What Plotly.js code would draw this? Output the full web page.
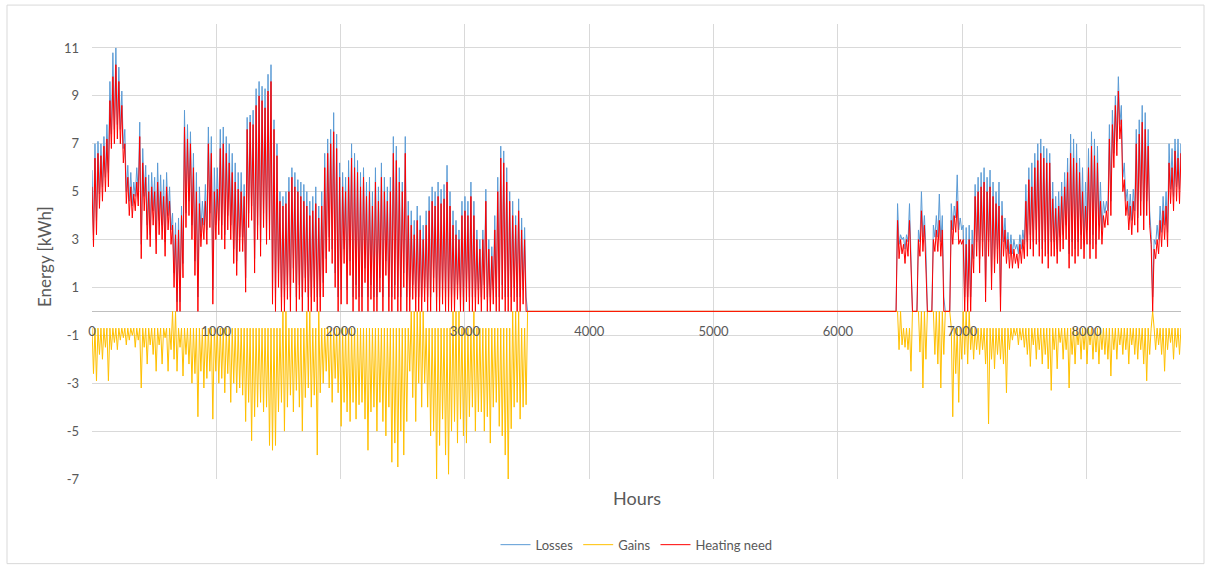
<!DOCTYPE html>
<html>
<head>
<meta charset="utf-8">
<script src="https://cdn.plot.ly/plotly-3.0.1.min.js"></script>
<style>
  html, body { margin: 0; padding: 0; background: #ffffff; }
  #chart { width: 1212px; height: 572px; }
</style>
</head>
<body>
<div id="chart"></div>
<script>
// ---- Data ----
// One night peak (Hi, at the start of each day) and one daytime trough (Lo, at mid-day)
// per day, for the two heating periods. Between them everything is 0.
const DAY_HOURS = 24;
const HALF_DAY = 12;
const START_WINTER1 = 0;
const START_WINTER2 = 6456;

const seriesNames = ["Losses", "Gains", "Heating need"];

// ----- first heating period (days from hour 0) -----
const lossHi1 = [
  5.9, 7.0, 7.1, 7.0, 7.3, 7.8, 9.6, 10.8, 11.0, 10.2,
  9.2, 7.6, 6.1, 5.8, 5.4, 6.0, 7.9, 6.8, 6.1, 5.7,
  5.8, 5.6, 6.2, 5.7, 5.5, 5.8, 5.2, 4.1, 3.7, 3.9,
  4.4, 8.4, 7.8, 7.5, 6.6, 5.8, 5.2, 4.6, 5.3, 7.7,
  7.3, 6.0, 6.0, 7.6, 7.7, 7.3, 7.0, 6.6, 6.2, 5.8,
  5.8, 5.3, 8.1, 8.2, 8.4, 9.3, 9.6, 9.4, 9.3, 9.9,
  10.3, 8.0, 7.0, 5.0, 4.8, 5.0, 5.6, 6.0, 5.8, 5.5,
  5.4, 5.3, 5.0, 4.6, 4.8, 5.2, 4.4, 5.0, 6.6, 7.2,
  7.6, 8.3, 7.4, 6.2, 5.8, 5.6, 6.3, 7.0, 6.6, 6.3,
  5.8, 6.0, 5.4, 5.6, 5.0, 6.0, 5.2, 6.2, 5.6, 5.2,
  5.6, 7.3, 6.9, 6.0, 5.4, 7.3, 4.6, 4.2, 3.8, 4.4,
  4.0, 3.6, 4.2, 4.8, 5.2, 5.0, 5.4, 5.1, 5.3, 6.1,
  5.0, 4.2, 3.8, 3.4, 4.6, 4.8, 4.6, 5.4, 4.6, 3.4,
  3.0, 3.4, 5.1, 3.0, 2.7, 4.0, 5.6, 6.9, 6.7, 6.0,
  5.0, 4.6, 4.0, 4.7, 3.9, 3.5, 0
];
const lossLo1 = [
  3.2, 3.8, 4.9, 5.2, 5.6, 5.8, 7.4, 7.6, 7.8, 7.6,
  6.8, 5.0, 4.6, 4.4, 4.8, 5.0, 2.8, 4.8, 3.6, 3.2,
  4.2, 3.0, 3.8, 3.6, 2.9, 4.0, 3.4, 1.6, 0.4, 0.4,
  2.0, 4.1, 4.6, 3.6, 2.1, 0.6, 3.3, 3.6, 3.4, 4.1,
  0.9, 3.6, 3.8, 3.6, 3.2, 4.0, 3.6, 2.6, 2.1, 3.1,
  3.1, 1.4, 4.1, 4.4, 2.2, 3.6, 2.9, 4.1, 3.4, 3.6,
  0.9, 0.6, 1.6, 0.6, 0.6, 1.1, 0.6, 1.8, 0.6, 1.1,
  0.6, 1.4, 0.6, 0.6, 1.0, 0.6, 0.6, 1.2, 2.2, 3.1,
  2.6, 1.6, 0.6, 0.9, 2.6, 0.9, 2.1, 0.6, 1.1, 0.6,
  0.6, 1.8, 0.6, 1.1, 0.6, 0.6, 1.4, 0.6, 2.1, 0.6,
  0.6, 1.1, 0.6, 0.6, 1.6, 0.6, 0.6, 1.1, 0.6, 0.6,
  0.6, 1.0, 0.6, 0.6, 1.4, 0.6, 0.6, 0.9, 0.6, 0.6,
  0.6, 0.6, 1.1, 0.6, 0.6, 1.0, 0.6, 0.6, 0.6, 0.9,
  0.6, 1.1, 0.6, 0.6, 0.9, 0.6, 0.6, 1.1, 0.6, 0.6,
  0.6, 1.0, 0.6, 0.6, 0.9, 0.6, 0
];
const gainHi1 = [
  -0.7, -0.7, -0.7, -0.7, -0.7, -0.7, -0.7, -0.7, -0.7, -0.7,
  -0.7, -0.7, -0.7, -0.7, -0.7, -0.7, -0.7, -0.7, -0.7, -0.7,
  -0.7, -0.7, -0.7, -0.7, -0.7, -0.7, -0.7, 0, 0, -0.7,
  -0.7, -0.7, -0.7, -0.7, -0.7, -0.7, -0.7, -0.7, -0.7, -0.7,
  -0.7, -0.7, -0.7, -0.7, -0.7, -0.7, -0.7, -0.7, -0.7, -0.7,
  -0.7, -0.7, -0.7, -0.7, -0.7, -0.7, -0.7, -0.7, -0.7, -0.7,
  -0.7, -0.7, -0.7, -0.7, 0, 0, -0.7, -0.7, -0.7, -0.7,
  -0.7, -0.7, 0, 0, -0.7, -0.7, 0, -0.7, -0.7, -0.7,
  -0.7, -0.7, -0.7, -0.7, -0.7, -0.7, -0.7, -0.7, -0.7, -0.7,
  -0.7, -0.7, -0.7, -0.7, -0.7, -0.7, -0.7, -0.7, -0.7, -0.7,
  -0.7, -0.7, -0.7, -0.7, -0.7, -0.7, -0.7, 0, 0, 0,
  0, 0, -0.7, -0.7, -0.7, -0.7, -0.7, -0.7, -0.7, -0.7,
  -0.7, 0, 0, 0, -0.7, -0.7, -0.7, -0.7, 0, -0.7,
  -0.7, -0.7, -0.7, -0.7, -0.7, -0.7, -0.7, -0.7, -0.7, -0.7,
  -0.7, 0, 0, 0, -0.7, -0.7, 0
];
const gainLo1 = [
  -2.6, -2.9, -1.8, -2.0, -1.5, -2.9, -1.6, -1.3, -1.6, -1.2,
  -1.1, -1.4, -1.2, -1.0, -1.5, -1.2, -3.2, -1.5, -2.2, -1.4,
  -1.8, -2.5, -1.4, -2.2, -1.1, -2.5, -1.6, -2.0, -2.5, -1.5,
  -2.7, -1.8, -2.2, -3.0, -2.6, -4.4, -2.5, -3.2, -2.8, -2.5,
  -4.5, -2.5, -3.0, -2.8, -3.4, -2.6, -3.8, -3.0, -3.4, -3.2,
  -3.5, -4.6, -3.8, -5.4, -4.4, -4.0, -3.8, -4.2, -4.0, -5.6,
  -5.8, -5.6, -4.2, -3.8, -5.0, -4.0, -3.5, -4.2, -3.3, -4.0,
  -5.0, -3.6, -3.2, -4.0, -3.5, -6.0, -3.4, -3.0, -2.5, -3.2,
  -3.8, -2.8, -3.4, -4.8, -3.8, -4.2, -4.6, -3.8, -4.5, -3.9,
  -3.8, -4.5, -5.8, -4.2, -4.0, -5.0, -3.8, -4.6, -5.2, -4.0,
  -6.3, -5.5, -6.5, -5.0, -6.0, -4.6, -2.5, -3.6, -4.6, -3.0,
  -4.0, -3.0, -4.0, -5.2, -5.0, -7.0, -5.6, -4.5, -6.0, -6.8,
  -5.0, -4.6, -5.5, -4.5, -5.2, -5.5, -4.4, -4.0, -5.0, -4.2,
  -4.2, -5.0, -4.4, -5.5, -4.0, -3.8, -4.8, -5.2, -6.0, -7.0,
  -4.9, -4.0, -3.8, -4.5, -4.0, -3.9, 0
];
const heatHi1 = [
  5.2, 6.4, 6.6, 6.5, 6.9, 7.2, 8.8, 9.8, 10.3, 9.6,
  8.6, 7.0, 5.6, 5.2, 4.9, 5.4, 7.3, 6.2, 5.6, 5.0,
  5.2, 5.0, 5.4, 5.0, 4.8, 5.2, 4.6, 3.6, 3.2, 3.4,
  4.0, 7.7, 7.2, 7.0, 6.0, 5.0, 4.5, 3.9, 4.6, 7.0,
  6.6, 5.0, 5.1, 6.8, 7.0, 6.6, 6.2, 5.8, 5.4, 5.1,
  5.0, 4.8, 7.6, 7.9, 7.8, 8.6, 9.0, 8.8, 8.5, 9.2,
  9.6, 7.6, 6.5, 4.6, 4.4, 4.5, 5.0, 5.6, 5.2, 5.0,
  4.8, 4.6, 4.4, 4.0, 4.2, 4.5, 3.9, 4.4, 6.0, 6.6,
  7.0, 7.5, 6.8, 5.6, 5.2, 5.0, 5.6, 6.4, 6.0, 5.8,
  5.2, 5.6, 4.8, 5.0, 4.4, 5.4, 4.6, 5.6, 5.0, 4.6,
  5.0, 6.6, 6.3, 5.4, 5.0, 6.6, 4.0, 3.6, 3.2, 3.8,
  3.4, 3.0, 3.6, 4.2, 4.6, 4.4, 4.8, 4.5, 4.7, 5.4,
  4.4, 3.6, 3.2, 3.0, 4.0, 4.2, 4.0, 4.8, 4.0, 3.0,
  2.6, 3.0, 4.6, 2.6, 2.3, 3.4, 5.0, 6.4, 6.2, 5.4,
  4.6, 4.0, 3.6, 4.2, 3.4, 3.0, 0
];
const heatLo1 = [
  2.7, 3.2, 4.3, 4.6, 5.0, 5.2, 6.8, 7.0, 7.2, 7.0,
  6.2, 4.5, 4.0, 3.9, 4.2, 4.4, 2.2, 4.2, 3.0, 2.7,
  3.6, 2.4, 3.2, 3.0, 2.3, 3.4, 2.8, 1.0, 0, 0,
  1.4, 3.5, 4.0, 3.0, 1.5, 0, 2.7, 3.0, 2.8, 3.5,
  0.3, 3.0, 3.2, 3.0, 2.6, 3.4, 3.0, 2.0, 1.5, 2.5,
  2.5, 0.8, 3.5, 3.8, 1.6, 3.0, 2.3, 3.5, 2.8, 3.0,
  0.3, 0, 1.0, 0, 0, 0.5, 0, 1.2, 0, 0.5,
  0, 0.8, 0, 0, 0.4, 0, 0, 0.6, 1.6, 2.5,
  2.0, 1.0, 0, 0.3, 2.0, 0.3, 1.5, 0, 0.5, 0,
  0, 1.2, 0, 0.5, 0, 0, 0.8, 0, 1.5, 0,
  0, 0.5, 0, 0, 1.0, 0, 0, 0.5, 0, 0,
  0, 0.4, 0, 0, 0.8, 0, 0, 0.3, 0, 0,
  0, 0, 0.5, 0, 0, 0.4, 0, 0, 0, 0.3,
  0, 0.5, 0, 0, 0.3, 0, 0, 0.5, 0, 0,
  0, 0.4, 0, 0, 0.3, 0, 0
];

// ----- second heating period (days from hour 6456) -----
const lossHi2 = [
  0, 4.5, 3.2, 3.1, 3.2, 4.5, 0, 0, 3.4, 5.0,
  4.0, 0, 0, 3.6, 4.0, 4.9, 4.0, 0, 0, 4.5,
  4.4, 5.7, 3.9, 3.6, 3.5, 3.6, 3.4, 5.3, 5.6, 5.8,
  6.0, 5.6, 5.9, 5.4, 5.0, 5.4, 4.6, 3.9, 3.3, 3.2,
  3.0, 2.8, 3.2, 3.4, 5.3, 6.0, 6.2, 6.6, 7.0, 7.2,
  6.9, 6.8, 6.6, 5.4, 4.8, 5.0, 5.4, 5.8, 6.4, 7.4,
  7.2, 7.0, 6.4, 6.0, 5.4, 6.8, 7.5, 7.2, 6.9, 5.4,
  4.6, 4.6, 7.8, 8.4, 9.0, 9.8, 8.6, 6.2, 5.1, 4.9,
  5.1, 7.6, 8.0, 8.6, 8.3, 7.6, 3.2, 3.0, 3.6, 4.4,
  4.8, 5.0, 7.0, 6.8, 7.2, 7.2, 7.0
];
const lossLo2 = [
  0, 2.8, 3.0, 2.6, 2.9, 2.6, 0, 0, 2.9, 3.1,
  2.6, 0, 0, 3.1, 3.1, 2.9, 0.6, 0, 0, 3.4,
  3.9, 3.4, 3.4, 0.6, 0.6, 0.6, 2.2, 2.9, 2.2, 2.9,
  1.0, 2.9, 1.5, 2.2, 2.6, 0.6, 2.9, 2.6, 2.4, 2.4,
  2.6, 2.4, 2.6, 2.8, 2.9, 3.2, 2.9, 3.4, 2.9, 2.6,
  2.9, 2.4, 2.9, 2.9, 2.6, 3.1, 3.2, 3.6, 2.4, 2.9,
  2.6, 2.9, 3.2, 2.8, 3.4, 2.8, 3.2, 2.8, 3.6, 3.4,
  4.1, 4.2, 4.6, 6.6, 7.1, 7.8, 5.6, 4.6, 4.0, 3.8,
  4.2, 3.9, 4.6, 4.0, 4.6, 4.2, 0.6, 2.8, 3.0, 3.3,
  3.6, 3.3, 5.1, 4.8, 5.2, 5.1, 5.2
];
const gainHi2 = [
  0, 0, 0, -0.7, -0.7, -0.7, 0, 0, 0, 0,
  0, 0, 0, 0, 0, 0, 0, 0, 0, -0.7,
  -0.7, -0.7, -0.7, 0, 0, 0, -0.7, -0.7, -0.7, -0.7,
  -0.7, -0.7, -0.7, -0.7, -0.7, -0.7, -0.7, -0.7, -0.7, -0.7,
  -0.7, -0.7, -0.7, -0.7, -0.7, -0.7, -0.7, -0.7, -0.7, -0.7,
  -0.7, -0.7, -0.7, -0.7, -0.7, -0.7, -0.7, -0.7, -0.7, -0.7,
  -0.7, -0.7, -0.7, -0.7, -0.7, -0.7, -0.7, -0.7, -0.7, -0.7,
  -0.7, -0.7, -0.7, -0.7, -0.7, -0.7, -0.7, -0.7, -0.7, -0.7,
  -0.7, -0.7, -0.7, -0.7, -0.7, -0.7, -0.7, -0.7, -0.7, -0.7,
  -0.7, -0.7, -0.7, -0.7, -0.7, -0.7, -0.7
];
const gainLo2 = [
  0, -1.6, -1.4, -1.5, -1.6, -2.5, 0, 0, -1.7, -3.2,
  -2.0, 0, 0, -1.8, -2.2, -3.2, -1.8, 0, 0, -4.4,
  -2.6, -3.8, -2.0, -1.8, -2.2, -1.6, -2.0, -1.6, -1.8, -1.6,
  -2.2, -4.7, -2.0, -2.4, -1.8, -2.0, -2.2, -3.4, -1.6, -1.2,
  -1.0, -1.4, -1.2, -1.5, -1.8, -2.3, -1.4, -2.0, -1.6, -2.2,
  -1.8, -2.4, -3.3, -1.6, -2.4, -1.3, -2.0, -1.6, -3.2, -1.8,
  -2.2, -1.4, -2.0, -1.6, -2.2, -1.4, -2.0, -1.7, -2.2, -1.6,
  -1.8, -2.0, -2.7, -1.6, -2.0, -1.4, -1.8, -1.6, -2.2, -1.4,
  -1.8, -2.0, -1.6, -2.2, -2.9, -1.8, 0, -1.6, -1.4, -1.8,
  -2.5, -1.6, -1.3, -2.0, -1.5, -1.8, -1.4
];
const heatHi2 = [
  0, 3.8, 3.0, 2.8, 3.0, 3.8, 0, 0, 3.0, 4.2,
  3.6, 0, 0, 3.0, 3.4, 3.8, 3.4, 0, 0, 3.8,
  4.0, 4.6, 3.0, 3.0, 2.8, 3.0, 2.8, 4.8, 5.0, 5.2,
  5.4, 5.0, 5.2, 4.8, 4.5, 4.4, 4.0, 3.4, 3.0, 2.8,
  2.6, 2.4, 2.8, 3.0, 4.6, 5.5, 5.2, 6.0, 6.3, 6.6,
  6.4, 6.2, 6.2, 4.7, 4.3, 4.4, 4.8, 5.2, 5.8, 6.6,
  6.4, 6.2, 5.8, 5.0, 4.4, 6.0, 6.9, 6.5, 6.2, 4.6,
  4.0, 4.2, 7.2, 7.8, 8.6, 9.2, 8.0, 5.5, 4.6, 4.4,
  4.6, 7.0, 7.4, 7.9, 7.6, 6.9, 2.8, 2.6, 3.0, 3.8,
  4.2, 4.4, 6.2, 6.0, 6.7, 6.4, 6.6
];
const heatLo2 = [
  0, 2.2, 2.4, 2.0, 2.3, 2.0, 0, 0, 2.3, 2.5,
  2.0, 0, 0, 2.5, 2.5, 2.3, 0, 0, 0, 2.8,
  3.3, 2.8, 2.8, 0, 0, 0, 1.6, 2.3, 1.6, 2.3,
  0.4, 2.3, 0.9, 1.6, 2.0, 0, 2.3, 2.0, 1.8, 1.8,
  2.0, 1.8, 2.0, 2.2, 2.3, 2.6, 2.3, 2.8, 2.3, 2.0,
  2.3, 1.8, 2.3, 2.3, 2.0, 2.5, 2.6, 3.0, 1.8, 2.3,
  2.0, 2.3, 2.6, 2.2, 2.8, 2.2, 2.6, 2.2, 3.0, 2.8,
  3.5, 3.6, 4.0, 6.0, 6.5, 7.2, 5.0, 4.0, 3.4, 3.2,
  3.6, 3.3, 4.0, 3.4, 4.0, 3.6, 0, 2.2, 2.4, 2.7,
  3.0, 2.7, 4.5, 4.2, 4.6, 4.5, 4.6
];

const xTickValues = [0, 1000, 2000, 3000, 4000, 5000, 6000, 7000, 8000];
const yTickValues = [-7, -5, -3, -1, 1, 3, 5, 7, 9, 11];

// ---- arrange day peaks/troughs along the hour axis ----
function arrange(start, hi, lo) {
  const xs = [], ys = [];
  for (let d = 0; d < hi.length; d++) {
    xs.push(start + d * DAY_HOURS, start + d * DAY_HOURS + HALF_DAY);
    ys.push(hi[d], lo[d]);
  }
  return { xs, ys };
}
function series(hi1, lo1, hi2, lo2) {
  const a = arrange(START_WINTER1, hi1, lo1);
  const b = arrange(START_WINTER2, hi2, lo2);
  return { x: a.xs.concat(b.xs), y: a.ys.concat(b.ys) };
}

const data = [
  series(lossHi1, lossLo1, lossHi2, lossLo2),
  series(gainHi1, gainLo1, gainHi2, gainLo2),
  series(heatHi1, heatLo1, heatHi2, heatLo2)
];
const COLORS = ["#5b9bd5", "#ffc000", "#ff0000"];

const traces = seriesNames.map((name, k) => ({
  type: "scatter",
  mode: "lines",
  name: name,
  x: data[k].x,
  y: data[k].y,
  line: { color: COLORS[k], width: 1 },
  hoverinfo: "skip"
}));

const FONT = "Lato, 'Open Sans', 'DejaVu Sans', sans-serif";
const TXT = "#595959";

const L = 92, R = 31, T = 24, B = 91;
const W = 1212, H = 572;
const pw = W - L - R, ph = H - T - B;
const px = (x) => (x - L) / pw;
const py = (y) => (H - B - y) / ph;

const layout = {
  width: W,
  height: H,
  margin: { l: L, r: R, t: T, b: B, pad: 0 },
  paper_bgcolor: "#ffffff",
  plot_bgcolor: "#ffffff",
  font: { family: FONT, size: 13, color: TXT },
  showlegend: true,
  legend: {
    orientation: "h",
    x: 0.5, xanchor: "center",
    y: py(547), yanchor: "middle",
    font: { family: FONT, size: 13, color: TXT },
    traceorder: "normal"
  },
  xaxis: {
    range: [0, 8760],
    tickvals: xTickValues,
    ticktext: xTickValues.map(String),
    showgrid: true,
    gridcolor: "#d9d9d9",
    gridwidth: 1,
    zeroline: false,
    showline: false,
    ticks: "",
    anchor: "free",
    position: 7 / 19,
    ticklabelstandoff: 11,
    tickfont: { family: FONT, size: 13, color: TXT }
  },
  yaxis: {
    range: [-7, 12],
    tickvals: yTickValues,
    ticktext: yTickValues.map(String),
    showgrid: true,
    gridcolor: "#d9d9d9",
    gridwidth: 1,
    zeroline: true,
    zerolinecolor: "#bfbfbf",
    zerolinewidth: 1,
    showline: false,
    ticks: "",
    ticklabelstandoff: 12,
    tickfont: { family: FONT, size: 13, color: TXT }
  },
  annotations: [
    {
      text: "Hours", xref: "paper", yref: "paper",
      x: 0.5, y: py(500), xanchor: "center", yanchor: "middle",
      showarrow: false, font: { family: FONT, size: 18, color: TXT }
    },
    {
      text: "Energy [kWh]", xref: "paper", yref: "paper",
      x: px(45), y: py(258), xanchor: "center", yanchor: "middle",
      textangle: -90, showarrow: false,
      font: { family: FONT, size: 17, color: TXT }
    }
  ],
  shapes: [
    {
      type: "rect", xref: "paper", yref: "paper",
      x0: px(7), x1: px(1204), y0: py(566), y1: py(5),
      line: { color: "#d9d9d9", width: 1 }, fillcolor: "rgba(0,0,0,0)",
      layer: "below"
    }
  ]
};

Plotly.newPlot("chart", traces, layout, { staticPlot: true, displayModeBar: false });
</script>
</body>
</html>
